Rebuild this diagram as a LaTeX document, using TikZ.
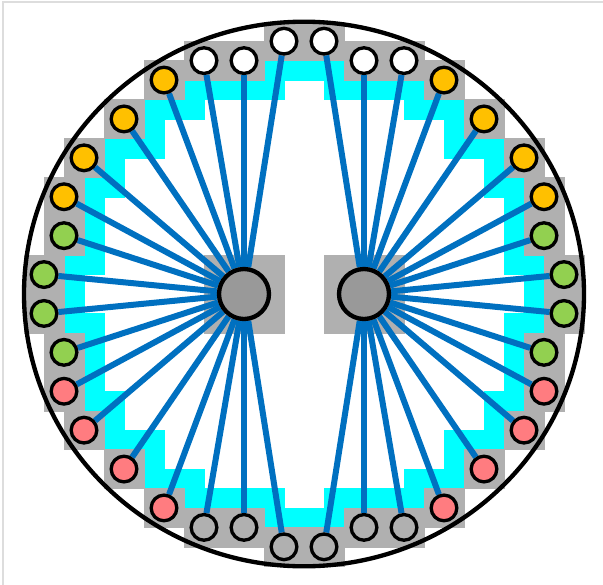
\documentclass[tikz,border=0pt]{standalone}
\usetikzlibrary{positioning}
\definecolor{padyellow}{HTML}{FFC000}
\definecolor{padgreen}{HTML}{92D050}
\definecolor{padred}{HTML}{FF7C80}
\definecolor{padgray}{HTML}{B0B0B0}
\definecolor{areagray}{HTML}{B0B0B0}
\definecolor{coregray}{HTML}{999999}
\definecolor{keepcyan}{HTML}{00FFFF}
\definecolor{wireblue}{HTML}{0070C0}
\definecolor{framegray}{HTML}{DDDDDD}
\pgfdeclarelayer{board}
\pgfdeclarelayer{wires}
\pgfsetlayers{board,wires,main}
\tikzset{
    pad/.style={
        circle, draw=black, line width=0.1cm,
        minimum size=0.77cm, inner sep=0pt
    },
    core/.style={
        pad, fill=coregray, line width=0.13cm, minimum size=1.5cm
    },
    padarea/.style={
        fill=areagray, draw=areagray, line width=0.2pt
    },
    keepout/.style={
        fill=keepcyan, draw=keepcyan, line width=0.2pt
    },
    wire/.style={
        draw=wireblue, line width=0.18cm
    },
    rim/.style={
        draw=black, line width=0.13cm
    }
}

\begin{document}
\begin{tikzpicture}[x=0.6cm, y=0.5835cm]
    \useasboundingbox (-15.2,-14.96) rectangle (14.95,15.116);
    \draw[framegray, line width=0.05cm] (-15.05,-14.96) -- (-15.05,15.01) -- (14.95,15.01);

    % --- Nucleos centrales ---
    \node[core] (coreL) at (-3,0) {};
    \node[core] (coreR) at (3,0) {};

    \begin{pgfonlayer}{board}
        \fill[padarea] (-5,-2) rectangle (-1,2);
        \fill[padarea] (1,-2) rectangle (5,2);
        % Franja cian, un cuadrante reflejado en x e y
        \foreach \sx in {1,-1}
            \foreach \sy in {1,-1}
                \foreach \xa/\xb/\ya/\yb in {-2/0/11/12, -6/-1/10/11, -8/-5/9/10,
                        -8/-7/8/9, -10/-7/7/8, -10/-9/6/7, -11/-9/5/6,
                        -11/-10/2/5, -12/-10/1/2, -12/-11/0/1}
                    \fill[keepout] ({\sx*(\xa)},{\sy*(\ya)}) rectangle ({\sx*(\xb)},{\sy*(\yb)});
    \end{pgfonlayer}

    % --- Pads del anillo (mitad izquierda, reflejada a la derecha) ---
    \foreach \px/\py/\pc [count=\k] in {-1/13/white, -3/12/white, -5/12/white,
            -7/11/padyellow, -9/9/padyellow, -11/7/padyellow, -12/5/padyellow,
            -12/3/padgreen, -13/1/padgreen, -13/-1/padgreen, -12/-3/padgreen,
            -12/-5/padred, -11/-7/padred, -9/-9/padred, -7/-11/padred,
            -5/-12/padgray, -3/-12/padgray, -1/-13/padgray} {
        \node[pad, fill=\pc] (pl\k) at (\px,\py) {};
        \node[pad, fill=\pc] (pr\k) at ({-(\px)},\py) {};
        \begin{pgfonlayer}{board}
            \fill[padarea] ({\px-1},{\py-1}) rectangle ({\px+1},{\py+1});
            \fill[padarea] ({-(\px)-1},{\py-1}) rectangle ({-(\px)+1},{\py+1});
        \end{pgfonlayer}
    }

    % --- Conexiones y borde ---
    \begin{pgfonlayer}{wires}
        \draw[rim] (0,0) ellipse [x radius=8.4cm, y radius=8.169cm];
        \foreach \k in {1,...,18} {
            \draw[wire] (pl\k) -- (coreL);
            \draw[wire] (pr\k) -- (coreR);
        }
    \end{pgfonlayer}
\end{tikzpicture}
\end{document}
